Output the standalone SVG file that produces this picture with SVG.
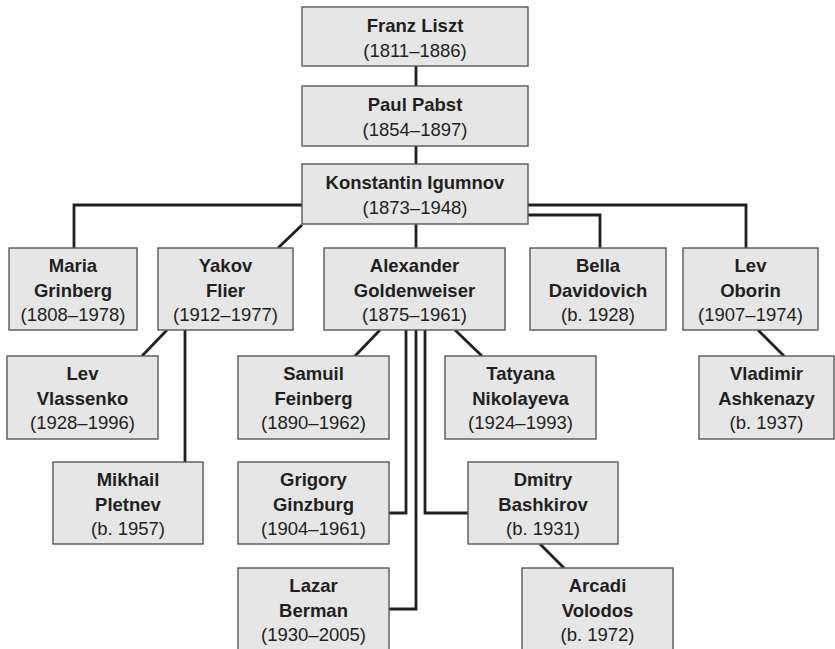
<svg xmlns="http://www.w3.org/2000/svg" width="835" height="649" viewBox="0 0 835 649">
<style>
.box{fill:#e6e6e7;stroke:#58585a;stroke-width:1.4}
.n{font-family:"Liberation Sans",Arial,sans-serif;font-size:18.5px;font-weight:bold;fill:#231f20;text-anchor:middle}
.d{font-family:"Liberation Sans",Arial,sans-serif;font-size:18.5px;fill:#231f20;text-anchor:middle}
.c{fill:none;stroke:#231f20;stroke-width:2.8;stroke-linejoin:miter}
</style>
<rect width="835" height="649" fill="#fff"/>
<g id="connectors">
<path class="c" d="M416 66V86M416 146V164"/>
<path class="c" d="M302 205H74V248"/>
<path class="c" d="M528 205H746V248"/>
<path class="c" d="M528 215H600V248"/>
<path class="c" d="M302 225L278 248"/>
<path class="c" d="M416 224V248"/>
<path class="c" d="M167 330L142 356"/>
<path class="c" d="M185 330V462"/>
<path class="c" d="M380 330L355 356"/>
<path class="c" d="M455 330L482 356"/>
<path class="c" d="M406 330V513H389"/>
<path class="c" d="M416 330V609H389"/>
<path class="c" d="M425 330V513H468"/>
<path class="c" d="M758 330L784 356"/>
<path class="c" d="M540 544L564 568"/>
</g>
<g id="liszt"><rect class="box" x="302" y="7" width="226" height="59"/><text class="n" x="415" y="32">Franz Liszt</text><text class="d" x="415" y="57">(1811–1886)</text></g>
<g id="pabst"><rect class="box" x="302" y="86" width="226" height="60"/><text class="n" x="415" y="111">Paul Pabst</text><text class="d" x="415" y="136">(1854–1897)</text></g>
<g id="igumnov"><rect class="box" x="302" y="164" width="226" height="60"/><text class="n" x="415" y="189">Konstantin Igumnov</text><text class="d" x="415" y="214">(1873–1948)</text></g>
<g id="grinberg"><rect class="box" x="9" y="248" width="128" height="82"/><text class="n" x="73" y="272">Maria</text><text class="n" x="73" y="297">Grinberg</text><text class="d" x="73" y="321">(1808–1978)</text></g>
<g id="flier"><rect class="box" x="158" y="248" width="135" height="82"/><text class="n" x="225.5" y="272">Yakov</text><text class="n" x="225.5" y="297">Flier</text><text class="d" x="225.5" y="321">(1912–1977)</text></g>
<g id="goldenweiser"><rect class="box" x="324" y="248" width="181" height="82"/><text class="n" x="414.5" y="272">Alexander</text><text class="n" x="414.5" y="297">Goldenweiser</text><text class="d" x="414.5" y="321">(1875–1961)</text></g>
<g id="davidovich"><rect class="box" x="530" y="248" width="136" height="82"/><text class="n" x="598" y="272">Bella</text><text class="n" x="598" y="297">Davidovich</text><text class="d" x="598" y="321">(b. 1928)</text></g>
<g id="oborin"><rect class="box" x="683" y="248" width="135" height="82"/><text class="n" x="750.5" y="272">Lev</text><text class="n" x="750.5" y="297">Oborin</text><text class="d" x="750.5" y="321">(1907–1974)</text></g>
<g id="vlassenko"><rect class="box" x="7" y="356" width="151" height="83"/><text class="n" x="82.5" y="380">Lev</text><text class="n" x="82.5" y="405">Vlassenko</text><text class="d" x="82.5" y="429">(1928–1996)</text></g>
<g id="feinberg"><rect class="box" x="238" y="356" width="151" height="83"/><text class="n" x="313.5" y="380">Samuil</text><text class="n" x="313.5" y="405">Feinberg</text><text class="d" x="313.5" y="429">(1890–1962)</text></g>
<g id="nikolayeva"><rect class="box" x="445" y="356" width="151" height="83"/><text class="n" x="520.5" y="380">Tatyana</text><text class="n" x="520.5" y="405">Nikolayeva</text><text class="d" x="520.5" y="429">(1924–1993)</text></g>
<g id="ashkenazy"><rect class="box" x="699" y="356" width="135" height="83"/><text class="n" x="766.5" y="380">Vladimir</text><text class="n" x="766.5" y="405">Ashkenazy</text><text class="d" x="766.5" y="429">(b. 1937)</text></g>
<g id="pletnev"><rect class="box" x="53" y="462" width="150" height="82"/><text class="n" x="128" y="486">Mikhail</text><text class="n" x="128" y="511">Pletnev</text><text class="d" x="128" y="535">(b. 1957)</text></g>
<g id="ginzburg"><rect class="box" x="238" y="462" width="151" height="82"/><text class="n" x="313.5" y="486">Grigory</text><text class="n" x="313.5" y="511">Ginzburg</text><text class="d" x="313.5" y="535">(1904–1961)</text></g>
<g id="bashkirov"><rect class="box" x="468" y="462" width="150" height="82"/><text class="n" x="543" y="486">Dmitry</text><text class="n" x="543" y="511">Bashkirov</text><text class="d" x="543" y="535">(b. 1931)</text></g>
<g id="berman"><rect class="box" x="238" y="568" width="151" height="84"/><text class="n" x="313.5" y="592">Lazar</text><text class="n" x="313.5" y="617">Berman</text><text class="d" x="313.5" y="641">(1930–2005)</text></g>
<g id="volodos"><rect class="box" x="522" y="568" width="151" height="84"/><text class="n" x="597.5" y="592">Arcadi</text><text class="n" x="597.5" y="617">Volodos</text><text class="d" x="597.5" y="641">(b. 1972)</text></g>
</svg>
